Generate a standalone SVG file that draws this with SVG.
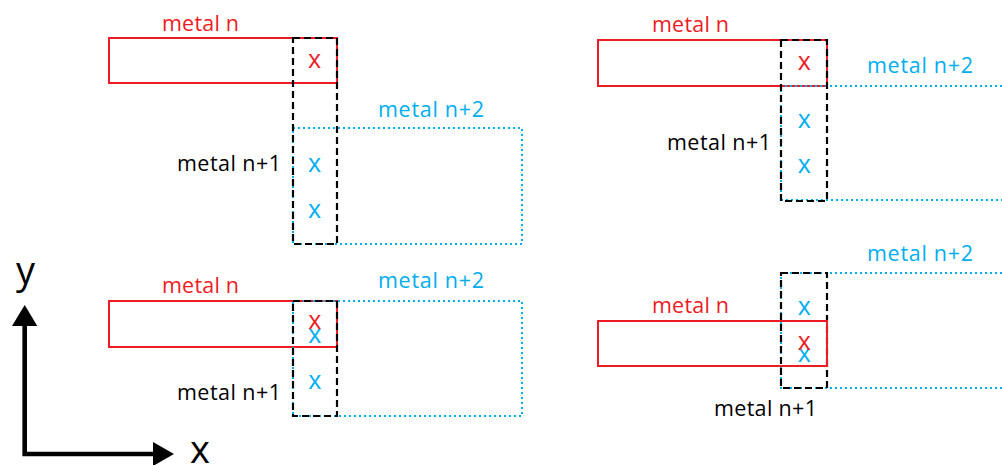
<svg xmlns="http://www.w3.org/2000/svg" width="1002" height="465" viewBox="0 0 1002 465">
<style>
.red{fill:none;stroke:#ED1C24;stroke-width:2}
.blue{fill:none;stroke:#00AEEF;stroke-width:2;stroke-dasharray:2 3}
.black{fill:none;stroke:#000;stroke-width:2.2;stroke-dasharray:7 4}
.lbl{font-family:"Open Sans","Liberation Sans",sans-serif;font-size:21.5px}
.mk{font-family:"Open Sans","Liberation Sans",sans-serif;font-size:25px;text-anchor:middle}
.r{fill:#ED1C24}.b{fill:#00AEEF}.k{fill:#000}
</style>
<rect width="1002" height="465" fill="#fff"/>
<g id="panel1">
<rect class="red" x="109" y="38" width="228" height="45"/>
<rect class="blue" x="293" y="128" width="229" height="116"/>
<rect class="black" x="293" y="38" width="44" height="206"/>
<text class="lbl r" x="162" y="31" textLength="77">metal n</text>
<text class="lbl b" x="378" y="117" textLength="106">metal n+2</text>
<text class="lbl k" x="177" y="171" textLength="104">metal n+1</text>
<text class="mk r" x="314.5" y="68">x</text>
<text class="mk b" x="314.5" y="172">x</text>
<text class="mk b" x="314.5" y="218">x</text>
</g>
<g id="panel2">
<rect class="red" x="598" y="40" width="229" height="46"/>
<path class="blue" d="M1002,86 H781 V200 H1002"/>
<rect class="black" x="781" y="40" width="46" height="161"/>
<text class="lbl r" x="652" y="32" textLength="77">metal n</text>
<text class="lbl b" x="867" y="73" textLength="106">metal n+2</text>
<text class="lbl k" x="667" y="150" textLength="104">metal n+1</text>
<text class="mk r" x="804.3" y="70">x</text>
<text class="mk b" x="804.3" y="128">x</text>
<text class="mk b" x="804.3" y="173">x</text>
</g>
<g id="panel3">
<rect class="red" x="109" y="301" width="228" height="46"/>
<rect class="blue" x="293" y="301" width="229" height="115"/>
<rect class="black" x="293" y="301" width="44" height="115"/>
<text class="lbl r" x="162" y="293" textLength="77">metal n</text>
<text class="lbl b" x="378" y="288" textLength="106">metal n+2</text>
<text class="lbl k" x="177" y="400" textLength="104">metal n+1</text>
<text class="mk b" x="314.7" y="343">x</text>
<text class="mk r" x="314.7" y="329">x</text>
<text class="mk b" x="314.7" y="389">x</text>
</g>
<g id="panel4">
<path class="blue" d="M1002,273 H781 V388 H1002"/>
<rect class="black" x="781" y="273" width="46" height="115"/>
<rect class="red" x="598" y="321" width="229" height="45"/>
<text class="lbl r" x="652" y="313" textLength="77">metal n</text>
<text class="lbl b" x="867" y="261" textLength="106">metal n+2</text>
<text class="lbl k" x="714" y="416" textLength="103">metal n+1</text>
<text class="mk b" x="804.3" y="315">x</text>
<text class="mk b" x="804.3" y="362">x</text>
<text class="mk r" x="804.3" y="350">x</text>
</g>
<g id="axes">
<path d="M24.7,324 V454 H154" fill="none" stroke="#000" stroke-width="4.6"/>
<polygon points="12,326 37.3,326 24.7,305" fill="#000"/>
<polygon points="153,442 153,466 174,454" fill="#000"/>
<text x="25.5" y="284" font-family="Open Sans, Liberation Sans, sans-serif" font-size="38" text-anchor="middle">y</text>
<text x="200" y="463" font-family="Open Sans, Liberation Sans, sans-serif" font-size="38" text-anchor="middle">x</text>
</g>
</svg>
